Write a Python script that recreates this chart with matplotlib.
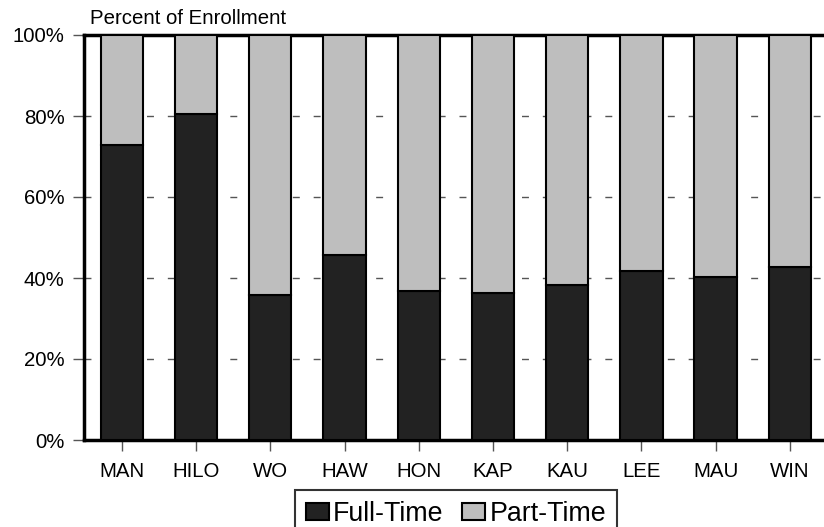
import matplotlib.pyplot as plt
import numpy as np

plt.rcParams['font.family'] = ['Liberation Sans', 'DejaVu Sans']

# --- dati ---
campus = ['MAN', 'HILO', 'WO', 'HAW', 'HON', 'KAP', 'KAU', 'LEE', 'MAU', 'WIN']
full_time = [72.8, 80.5, 35.8, 45.7, 36.8, 36.3, 38.3, 41.7, 40.2, 42.7]
part_time = [100 - v for v in full_time]
y_ticks = [0, 20, 40, 60, 80, 100]
y_labels = ['0%', '20%', '40%', '60%', '80%', '100%']

fig = plt.figure(figsize=(8.24, 5.27), dpi=100)
ax = fig.add_axes([84 / 824, 1 - 440 / 527, 1 - 84 / 824, 405 / 527])

x = np.arange(len(campus))
w = 0.57
ax.bar(x, full_time, w, color='#222222', edgecolor='black', linewidth=1.5,
       label='Full-Time', zorder=3)
ax.bar(x, part_time, w, bottom=full_time, color='#bebebe', edgecolor='black',
       linewidth=1.5, label='Part-Time', zorder=3)

ax.set_xlim(-0.51, 9.46)
ax.set_ylim(0, 100)
ax.set_yticks(y_ticks)
ax.set_yticklabels(y_labels, fontsize=14.7)
ax.set_xticks(x)
ax.set_xticklabels(campus, fontsize=14.7)
ax.tick_params(axis='both', color='#555555', length=8, width=1)
ax.tick_params(axis='x', pad=7.5)
ax.tick_params(axis='y', pad=6)

for yv in y_ticks[1:-1]:
    ax.axhline(yv, color='#555555', lw=1, ls=(0, (5, 10)), zorder=1)

for s in ['left', 'top', 'bottom']:
    ax.spines[s].set_linewidth(2.5)
ax.spines['right'].set_visible(False)

fig.text(90 / 824, 1 - 19 / 527, 'Percent of Enrollment', fontsize=14.7,
         va='center', ha='left')

leg = fig.legend(loc='upper center', bbox_to_anchor=(456 / 824, 1 - 490 / 527), ncol=2,
                 fontsize=19.3, frameon=True, fancybox=False, edgecolor='black',
                 handlelength=0.86, handleheight=0.6, handletextpad=0.15,
                 columnspacing=0.7, borderpad=0.4, borderaxespad=0)
leg.get_frame().set_linewidth(1.5)

fig.savefig('out.png', dpi=100)
